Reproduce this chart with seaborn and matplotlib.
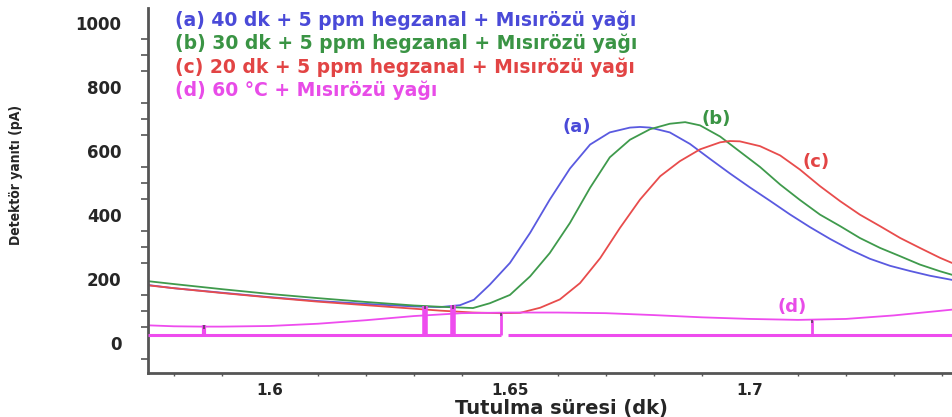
import numpy as np
import pandas as pd
import matplotlib
matplotlib.use("Agg")
import matplotlib.pyplot as plt
import seaborn as sns
from matplotlib.ticker import MultipleLocator, FixedLocator

# ---------------- data ----------------
a_t = [1.5746, 1.58, 1.59, 1.60, 1.61, 1.62, 1.63, 1.6354, 1.6396, 1.6425, 1.6458,
       1.65, 1.6542, 1.6583, 1.6625, 1.6667, 1.6708, 1.675, 1.6771, 1.6792,
       1.6833, 1.6875, 1.6917, 1.6958, 1.70, 1.7042, 1.7083, 1.7125, 1.7167,
       1.7208, 1.725, 1.7292, 1.7333, 1.7375, 1.7421]
a_y = [181, 171, 157, 143, 131, 122, 114, 112, 118, 135, 182,
       250, 344, 448, 545, 620, 658, 673, 675, 673,
       658, 622, 575, 530, 486, 444, 402, 362, 325,
       292, 263, 241, 225, 210, 197]

b_t = [1.5746, 1.58, 1.59, 1.60, 1.61, 1.62, 1.63, 1.6354, 1.6423, 1.6458, 1.65,
       1.6542, 1.6583, 1.6625, 1.6667, 1.6708, 1.675, 1.6792, 1.6833, 1.6865,
       1.6896, 1.6938, 1.6979, 1.7021, 1.7063, 1.7104, 1.7146, 1.7188, 1.7229,
       1.7271, 1.7313, 1.7354, 1.7396, 1.7421]
b_y = [193, 184, 168, 153, 140, 128, 117, 113, 109, 124, 150,
       208, 281, 375, 485, 580, 635, 668, 685, 690,
       680, 645, 598, 550, 495, 447, 401, 365, 328,
       297, 271, 245, 224, 213]

c_t = [1.5746, 1.58, 1.59, 1.60, 1.61, 1.62, 1.63, 1.6354, 1.6423, 1.6479, 1.6521,
       1.6563, 1.6604, 1.6646, 1.6688, 1.6729, 1.6771, 1.6813, 1.6854, 1.6896,
       1.6938, 1.6958, 1.6979, 1.7021, 1.7063, 1.7104, 1.7146, 1.7188, 1.7229,
       1.7271, 1.7313, 1.7354, 1.7396, 1.7421]
c_y = [180, 171, 156, 142, 129, 118, 107, 101, 95, 93, 94,
       110, 136, 187, 265, 359, 448, 521, 568, 605,
       627, 631, 630, 615, 586, 542, 490, 443, 401,
       365, 328, 297, 266, 250]

d_t = [1.5746, 1.58, 1.586, 1.59, 1.60, 1.61, 1.62, 1.63, 1.64, 1.65, 1.66,
       1.67, 1.68, 1.69, 1.70, 1.71, 1.72, 1.73, 1.7421]
d_y = [55, 52, 51, 51, 53, 60, 71, 84, 93, 95, 95,
       93, 87, 80, 75, 72, 75, 86, 104]

# integration baseline of (d) and its drop lines
base_level = 25
base_starts = [1.5746, 1.6495]
base_ends = [1.6481, 1.7421]
drop_t = [1.5863, 1.6323, 1.6382, 1.6481, 1.7129]
drop_top = [55, 115, 117, 95, 73]
drop_w = [3.0, 4.0, 4.0, 2.0, 2.0]

series_names = ["a", "b", "c", "d"]
legend_texts = ["(a) 40 dk + 5 ppm hegzanal + Mısırözü yağı",
                "(b) 30 dk + 5 ppm hegzanal + Mısırözü yağı",
                "(c) 20 dk + 5 ppm hegzanal + Mısırözü yağı",
                "(d) 60 °C + Mısırözü yağı"]
tag_texts = ["(a)", "(b)", "(c)", "(d)"]
tag_t = [1.6640, 1.6929, 1.7138, 1.7088]
tag_y = [674, 699, 567, 113]

x_ticks = [1.6, 1.65, 1.7]
x_ticklabels = ["1.6", "1.65", "1.7"]
y_ticks = [0, 200, 400, 600, 800, 1000]

line_colors = {"a": "#5a5ae0", "b": "#3f9a4c", "c": "#e84c4c", "d": "#ee4cee"}
text_colors = {"a": "#4a4ad8", "b": "#3a9444", "c": "#e24444", "d": "#e84ce8"}

# ---------------- plot ----------------
sns.set_style("white")
plt.rcParams["font.family"] = ["DejaVu Sans"]

fig = plt.figure(figsize=(9.52, 4.17), dpi=100)
ax = fig.add_axes([0.1555, 0.1055, 0.8445, 0.8755])

df = pd.concat([
    pd.DataFrame({"t": t, "pA": y, "series": s})
    for t, y, s in zip([a_t, b_t, c_t, d_t], [a_y, b_y, c_y, d_y], series_names)
], ignore_index=True)

sns.lineplot(data=df, x="t", y="pA", hue="series", palette=line_colors,
             sort=False, estimator=None, legend=False, linewidth=1.3, ax=ax)

ax.hlines([base_level] * len(base_starts), base_starts, base_ends,
          color=line_colors["d"], linewidth=2.2, zorder=3)
for t, top, w in zip(drop_t, drop_top, drop_w):
    ax.vlines(t, base_level, top, color=line_colors["d"], linewidth=w, zorder=3)
    ax.vlines(t, top - 10, top, color="#604060", linewidth=1.2, zorder=4)

for s, txt, tt, ty in zip(series_names, tag_texts, tag_t, tag_y):
    ax.text(tt, ty, txt, color=text_colors[s], fontsize=13, fontweight="bold",
            ha="center", va="center")

for i, (s, txt) in enumerate(zip(series_names, legend_texts)):
    ax.text(0.0336, 0.967 - i * 0.0645, txt, transform=ax.transAxes,
            color=text_colors[s], fontsize=13.5, fontweight="bold",
            ha="left", va="center")

ax.set_xlim(1.5746, 1.7421)
ax.set_ylim(-94, 1047)
ax.xaxis.set_major_locator(FixedLocator(x_ticks))
ax.set_xticklabels(x_ticklabels)
ax.xaxis.set_minor_locator(MultipleLocator(0.01))
ax.yaxis.set_major_locator(FixedLocator(y_ticks))
ax.yaxis.set_minor_locator(MultipleLocator(50))

for side in ["top", "right"]:
    ax.spines[side].set_visible(False)
for side in ["left", "bottom"]:
    ax.spines[side].set_color("#555555")
    ax.spines[side].set_linewidth(2)

ax.tick_params(axis="y", which="major", length=9, width=1.3, color="#555555",
               pad=10, labelsize=12)
ax.tick_params(axis="y", which="minor", length=5, width=1.2, color="#555555", left=True)
ax.tick_params(axis="x", which="major", length=3, width=1.3, color="#555555",
               pad=4, labelsize=11)
ax.tick_params(axis="x", which="minor", length=2, width=1.0, color="#555555", bottom=True)
for lab in ax.get_xticklabels() + ax.get_yticklabels():
    lab.set_fontweight("bold")

ax.set_xlabel("Tutulma süresi (dk)", fontsize=14, fontweight="bold")
ax.xaxis.set_label_coords(0.514, -0.071)
ax.set_ylabel("Detektör yanıtı (pA)", fontsize=10, fontweight="bold",
              family=["DejaVu Sans"], fontstretch="condensed")
ax.yaxis.set_label_coords(-0.155, 0.542)

fig.savefig("out.png", dpi=100)
